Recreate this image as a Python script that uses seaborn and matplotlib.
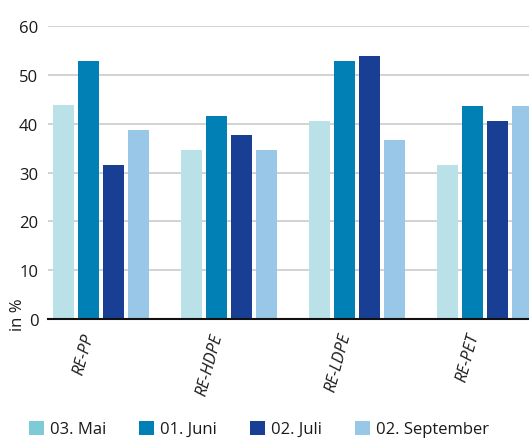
import matplotlib
matplotlib.use("Agg")
import matplotlib.pyplot as plt
import matplotlib.patches as mpatches
import matplotlib.transforms as mtransforms
import seaborn as sns
import pandas as pd

categories = ["RE-PP", "RE-HDPE", "RE-LDPE", "RE-PET"]
series_names = ["03. Mai", "01. Juni", "02. Juli", "02. September"]
mai = [43.8, 34.6, 40.5, 31.5]
juni = [52.8, 41.6, 52.8, 43.6]
juli = [31.5, 37.7, 53.9, 40.5]
september = [38.7, 34.6, 36.7, 43.6]
yticks = [0, 10, 20, 30, 40, 50, 60]

bar_colors = ["#b9e1e7", "#0080b4", "#183f94", "#98c7e7"]
legend_colors = ["#7ecbd6", "#0080b4", "#183f94", "#98c7e7"]

rows = []
for name, vals in zip(series_names, [mai, juni, juli, september]):
    for c, v in zip(categories, vals):
        rows.append({"cat": c, "series": name, "value": v})
df = pd.DataFrame(rows)

sns.set_style("white")
plt.rcParams["font.family"] = ["Open Sans", "DejaVu Sans"]

fig = plt.figure(figsize=(5.29, 4.39), dpi=100)
ax = fig.add_axes([48 / 529, (439 - 320) / 439, 1 - 48 / 529, (320 - 27) / 439])

sns.barplot(data=df, x="cat", y="value", hue="series", order=categories,
            hue_order=series_names, palette=bar_colors, width=0.78, gap=0.16,
            saturation=1, legend=False, ax=ax, linewidth=0, edgecolor="none",
            zorder=3)

ax.set_xlim(-0.41, 3.34)
ax.set_ylim(0, 60)
ax.set_yticks(yticks)
ax.set_yticklabels([str(t) for t in yticks], fontsize=12, color="#1a1a1a")
ax.yaxis.grid(True, color="#d2d2d2", linewidth=1.4, zorder=0)
ax.set_axisbelow(True)
for s in ["left", "right", "top"]:
    ax.spines[s].set_visible(False)
ax.spines["bottom"].set_color("#111111")
ax.spines["bottom"].set_linewidth(1.5)
ax.spines["bottom"].set_zorder(5)
ax.tick_params(axis="y", length=0, pad=7)
ax.tick_params(axis="x", length=0, pad=10)
ax.set_xlabel("")
ax.set_ylabel("")
ax.set_xticks(range(len(categories)))
ax.set_xticklabels(categories, rotation=75, ha="right", va="center",
                   rotation_mode="anchor", fontsize=12, style="italic",
                   color="#1a1a1a")
offset = mtransforms.ScaledTranslation(-11 / 100, 0, fig.dpi_scale_trans)
for lab in ax.get_xticklabels():
    lab.set_transform(lab.get_transform() + offset)

fig.text(18 / 529, 1 - 331 / 439, "in %", rotation=90, ha="center", va="bottom",
         fontsize=12, color="#1a1a1a")

handles = [mpatches.Patch(facecolor=c, edgecolor="none", label=n)
           for c, n in zip(legend_colors, series_names)]
fig.legend(handles=handles, loc="center left", bbox_to_anchor=(22 / 529, 1 - 430 / 439),
           ncol=4, frameon=False, fontsize=12, handlelength=0.9, handleheight=0.9,
           handletextpad=0.35, columnspacing=2.0, borderaxespad=0, labelcolor="#1a1a1a")

fig.savefig("out.png", dpi=100)
